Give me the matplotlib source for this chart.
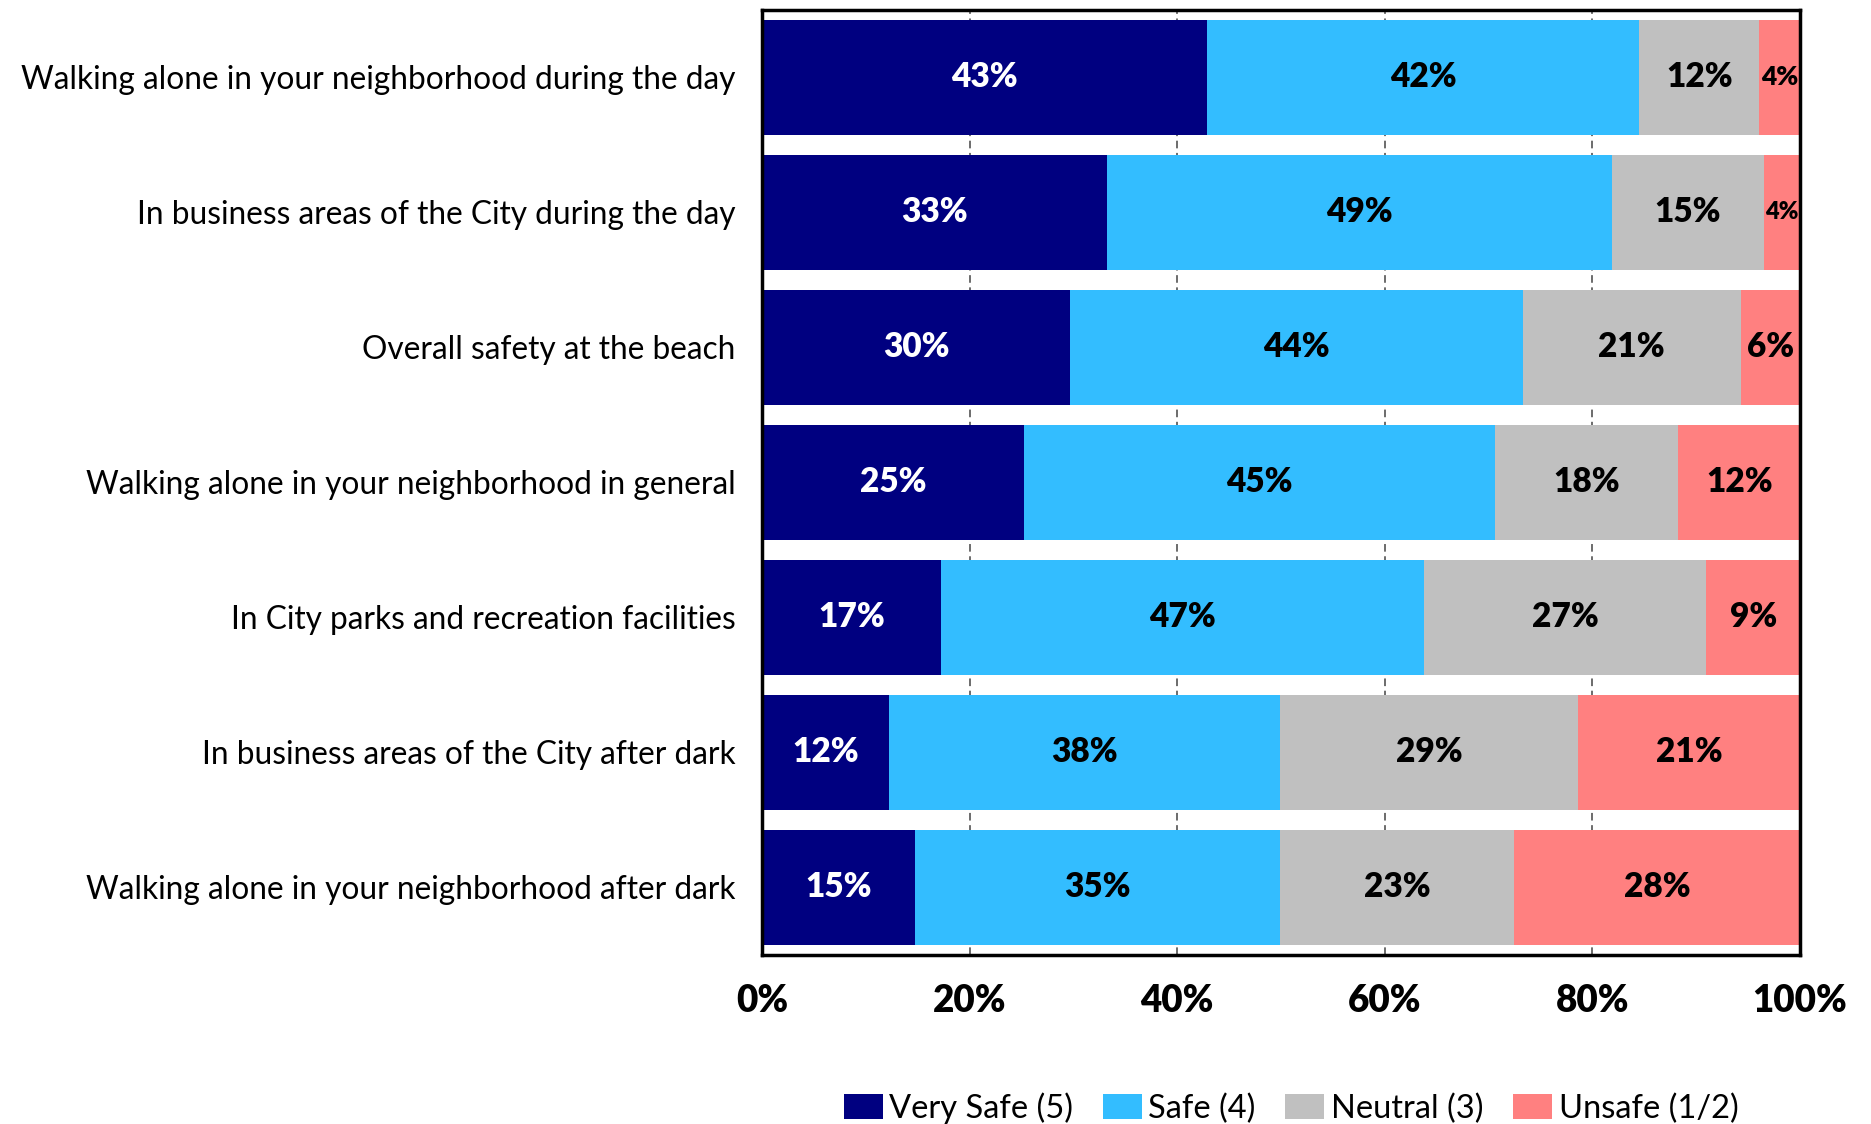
import matplotlib.pyplot as plt
import numpy as np

plt.rcParams['font.family'] = ['Lato', 'DejaVu Sans']

kategorie = [
    'Walking alone in your neighborhood during the day',
    'In business areas of the City during the day',
    'Overall safety at the beach',
    'Walking alone in your neighborhood in general',
    'In City parks and recreation facilities',
    'In business areas of the City after dark',
    'Walking alone in your neighborhood after dark',
]

bardzo_bezpiecznie = [42.9, 33.2, 29.7, 25.2, 17.2, 12.2, 14.7]
bezpiecznie = [41.6, 48.7, 43.6, 45.4, 46.6, 37.7, 35.2]
neutralnie = [11.6, 14.6, 21.0, 17.7, 27.2, 28.7, 22.6]
niebezpiecznie = [3.9, 3.5, 5.7, 11.7, 9.0, 21.4, 27.5]

serie = [bardzo_bezpiecznie, bezpiecznie, neutralnie, niebezpiecznie]
nazwy = ['Very Safe (5)', 'Safe (4)', 'Neutral (3)', 'Unsafe (1/2)']
kolory = ['#000080', '#33BDFF', '#C0C0C0', '#FF8080']
kolory_tekstu = ['white', 'black', 'black', 'black']

fig = plt.figure(figsize=(18.71, 11.24), dpi=100)
ax = fig.add_axes([0.4073, 0.1504, 0.5547, 0.841])

y = np.arange(len(kategorie))
lewo = np.zeros(len(kategorie))
for s, nazwa, kol, kt in zip(serie, nazwy, kolory, kolory_tekstu):
    s = np.array(s)
    ax.barh(y, s, left=lewo, height=0.85, color=kol, label=nazwa, zorder=2)
    for yi, l, w in zip(y, lewo, s):
        rozmiar = 24
        if w < 4.5:
            rozmiar = 17 if w < 3.8 else 19
        ax.text(l + w / 2, yi, f'{w:.0f}%', ha='center', va='center',
                color=kt, fontsize=rozmiar, fontweight='heavy', zorder=3)
    lewo += s

ax.set_xlim(0, 100)
ax.set_ylim(6.5, -0.5)
ax.set_xticks([0, 20, 40, 60, 80, 100])
ax.set_xticklabels(['0%', '20%', '40%', '60%', '80%', '100%'],
                   fontsize=26.5, fontweight='heavy')
ax.set_yticks(y)
ax.set_yticklabels(kategorie, fontsize=22.8)
ax.tick_params(axis='x', length=0, pad=21)
ax.tick_params(axis='y', length=0, pad=19)
ax.grid(axis='x', color='#444444', linestyle=(0, (5, 3)), linewidth=1.1, zorder=0)
ax.set_axisbelow(True)
for sp in ax.spines.values():
    sp.set_linewidth(2.5)
    sp.set_color('black')

fig.legend(loc='center', bbox_to_anchor=(0.69, 0.014), ncol=4, frameon=False,
           fontsize=23.5, handlelength=1.2, handleheight=0.8, handletextpad=0.2,
           columnspacing=0.9)

plt.savefig('out.png', dpi=100)
